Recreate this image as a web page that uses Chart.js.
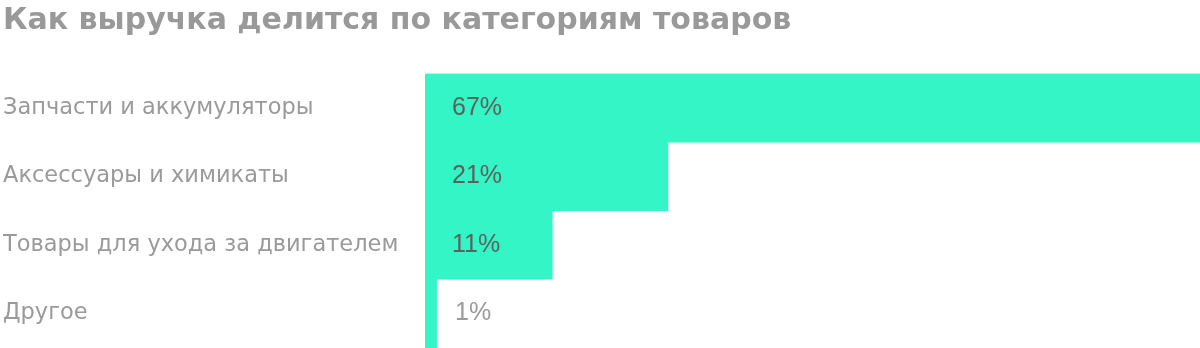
<!DOCTYPE html>
<html lang="ru">
<head>
<meta charset="utf-8">
<title>Как выручка делится по категориям товаров</title>
<script src="https://cdn.jsdelivr.net/npm/chart.js@4/dist/chart.umd.min.js"></script>
<style>
  html, body { margin: 0; padding: 0; background: #fff; }
  #wrap { width: 1200px; height: 348px; }
</style>
</head>
<body>
<div id="wrap"><canvas id="chart"></canvas></div>
<script>
// Данные
const categories = ['Запчасти и аккумуляторы', 'Аксессуары и химикаты', 'Товары для ухода за двигателем', 'Другое'];
const shares = [67, 21, 11, 1];

const BAR_COLOR = '#33f5c6';
const LABEL_GRAY = '#9a9a9a';
const VALUE_DARK = '#5f5f5f';
const LABEL_FONT = '"DejaVu Sans", sans-serif';
const VALUE_FONT = '"Liberation Sans", Arial, sans-serif';

// Подписи значений внутри столбцов
const valueLabels = {
    id: 'valueLabels',
    afterDatasetsDraw(chart) {
        const ctx = chart.ctx;
        const meta = chart.getDatasetMeta(0);
        ctx.save();
        ctx.font = '25px ' + VALUE_FONT;
        ctx.textBaseline = 'middle';
        ctx.textAlign = 'left';
        meta.data.forEach((bar, i) => {
            const text = shares[i] + '%';
            const x = bar.base + 27;
            const w = ctx.measureText(text).width;
            const inside = bar.x > x + w;
            ctx.fillStyle = inside ? VALUE_DARK : LABEL_GRAY;
            ctx.fillText(text, inside ? x : x + 3, bar.y);
        });
        ctx.restore();
    }
};

new Chart(document.getElementById('chart'), {
    type: 'bar',
    data: {
        labels: categories,
        datasets: [{
            data: shares,
            backgroundColor: BAR_COLOR,
            borderWidth: 0,
            categoryPercentage: 1,
            barPercentage: 1
        }]
    },
    options: {
        indexAxis: 'y',
        responsive: true,
        maintainAspectRatio: false,
        animation: false,
        layout: { padding: { left: 3, right: 0, top: 0, bottom: 0 } },
        plugins: {
            legend: { display: false },
            tooltip: { enabled: false },
            title: {
                display: true,
                text: 'Как выручка делится по категориям товаров',
                align: 'start',
                color: '#999999',
                font: { family: LABEL_FONT, size: 30, weight: 'bold', lineHeight: 1.2 },
                padding: { top: 3, bottom: 34.5 }
            }
        },
        scales: {
            x: {
                display: false,
                min: 0,
                max: 67
            },
            y: {
                grid: { display: false },
                border: { display: false },
                ticks: {
                    crossAlign: 'far',
                    color: LABEL_GRAY,
                    font: { family: LABEL_FONT, size: 22.5, lineHeight: 0.01 },
                    padding: 0
                },
                afterFit(scale) { scale.width = 422; }
            }
        }
    },
    plugins: [valueLabels]
});
</script>
</body>
</html>
